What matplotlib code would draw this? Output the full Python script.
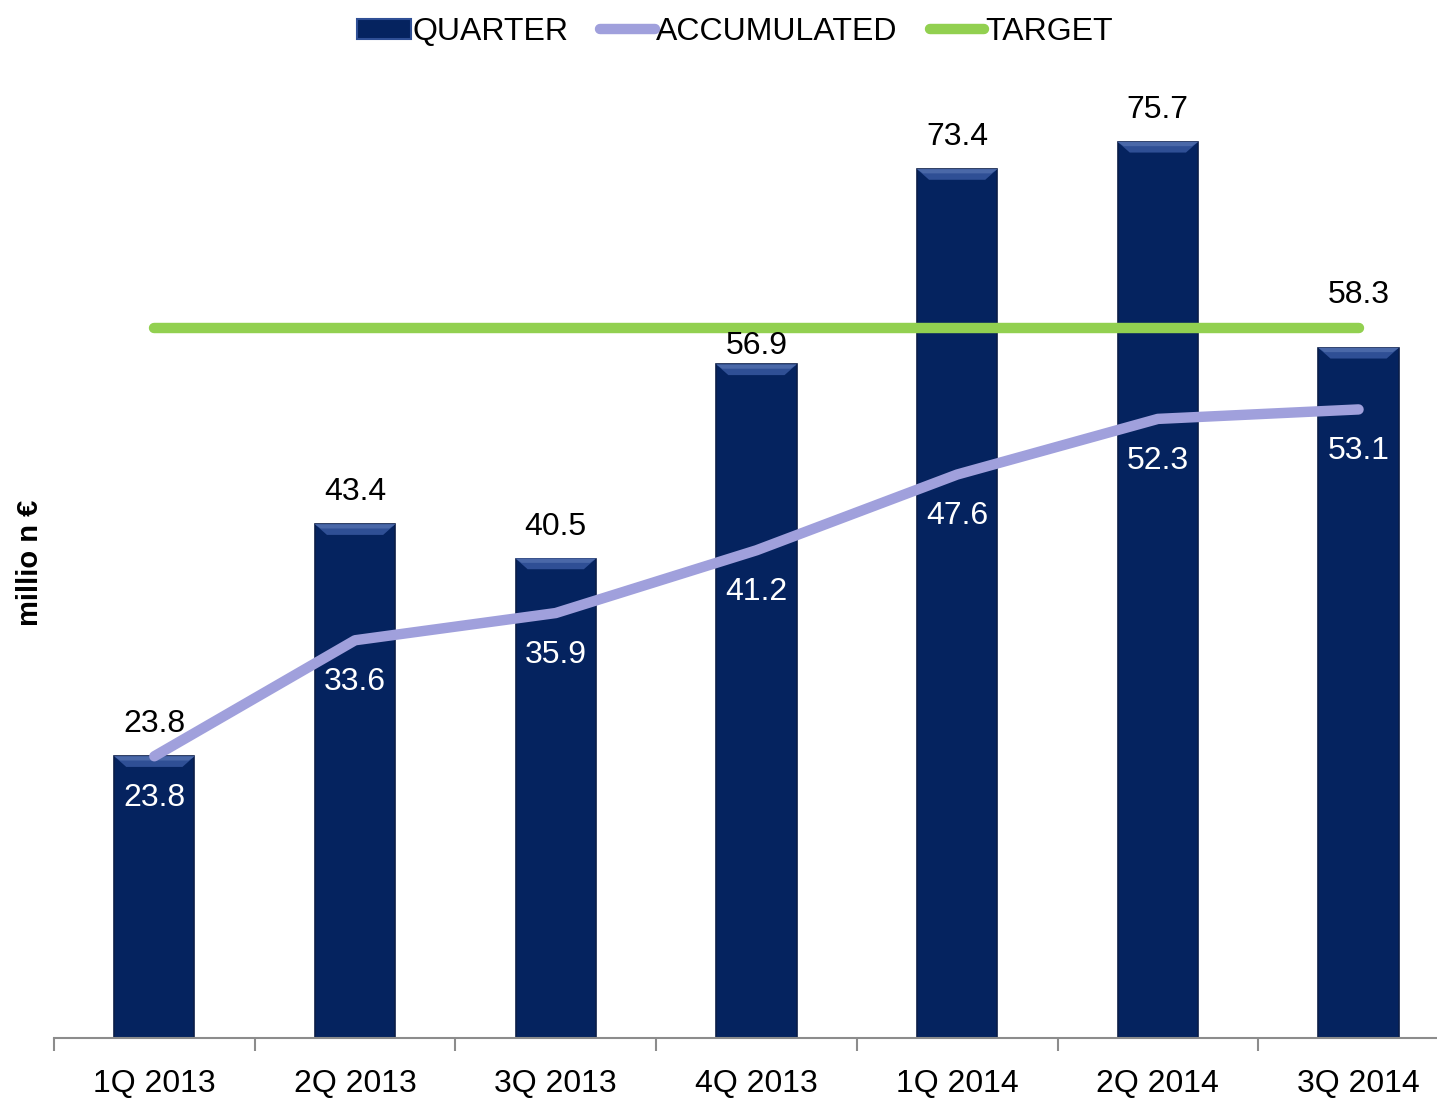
import numpy as np
import matplotlib
matplotlib.use("Agg")
import matplotlib.pyplot as plt
from matplotlib.patches import Polygon, Patch
from matplotlib.lines import Line2D

plt.rcParams["font.family"] = ["Liberation Sans Narrow", "Liberation Sans", "DejaVu Sans"]

quarters = ["1Q 2013", "2Q 2013", "3Q 2013", "4Q 2013", "1Q 2014", "2Q 2014", "3Q 2014"]
quarter_vals = [23.8, 43.4, 40.5, 56.9, 73.4, 75.7, 58.3]
accum_vals = [23.8, 33.6, 35.9, 41.2, 47.6, 52.3, 53.1]
target_val = 60.0

NAVY = "#05235f"
LAV = "#a0a0dc"
GREEN = "#92d050"
FS = 23

fig = plt.figure(figsize=(14.37, 11.01), dpi=100, facecolor="white")
ax = fig.add_axes([54 / 1437, 63 / 1101, (1437 - 54) / 1437, (1038 - 91) / 1101])

x = np.arange(len(quarters))
bw = 0.4
bars = ax.bar(x, quarter_vals, width=bw, color=NAVY, edgecolor="#0b1d48", linewidth=1.2, zorder=2)

# bevel on top of each bar
bev = 0.9
ins = 0.06
for b in bars:
    x0, w, h = b.get_x(), b.get_width(), b.get_height()
    ax.add_patch(Polygon([[x0, h], [x0 + w, h], [x0 + w - ins, h - bev], [x0 + ins, h - bev]],
                         closed=True, facecolor="#2f4f95", edgecolor="none", zorder=3))
    ax.add_patch(Polygon([[x0, h], [x0 + w, h], [x0 + w - ins * 0.5, h - bev * 0.4], [x0 + ins * 0.5, h - bev * 0.4]],
                         closed=True, facecolor="#4a68a8", edgecolor="none", zorder=3))

ax.plot([x[0], x[-1]], [target_val, target_val], color=GREEN, lw=7.5, solid_capstyle="round", zorder=4)
ax.plot(x, accum_vals, color=LAV, lw=7.5, solid_capstyle="round", solid_joinstyle="round", zorder=4)

# quarter labels above bars (two nudged to dodge the target line)
nudge = {3: -10, 6: 15}
for i, v in enumerate(quarter_vals):
    ax.annotate(f"{v:.1f}", (x[i], v), xytext=(0, 23 + nudge.get(i, 0)), textcoords="offset points",
                ha="center", va="center", fontsize=FS, color="black", zorder=5)

for i, v in enumerate(accum_vals):
    ax.annotate(f"{v:.1f}", (x[i], v), xytext=(0, -30), textcoords="offset points",
                ha="center", va="center", fontsize=FS, color="white", zorder=5)

for s in ["top", "right", "left"]:
    ax.spines[s].set_visible(False)
ax.spines["bottom"].set_color("#8c8c8c")
ax.spines["bottom"].set_linewidth(1.5)
ax.set_yticks([])
ax.set_xticks(x)
ax.set_xticklabels(quarters, fontsize=FS)
ax.tick_params(axis="x", which="major", length=0, pad=22)
ax.set_xticks(np.arange(-0.5, len(quarters) + 0.5, 1), minor=True)
ax.tick_params(axis="x", which="minor", length=9, width=1.5, color="#8c8c8c")
ax.set_xlim(-0.5, (1437 - 54) / 200.7 - 0.5)
ax.set_ylim(0, 80)

fig.text(30 / 1437, 1 - 563 / 1101, "millio n €", rotation=90, ha="center", va="center",
         fontsize=21, fontweight="bold")

handles = [Patch(facecolor=NAVY, edgecolor="#2f4f95", linewidth=1.5),
           Line2D([], [], color=LAV, lw=7.5, solid_capstyle="round"),
           Line2D([], [], color=GREEN, lw=7.5, solid_capstyle="round")]
fig.legend(handles, ["QUARTER", "ACCUMULATED", "TARGET"], loc="center", bbox_to_anchor=(735 / 1437, 1 - 32 / 1101),
           ncol=3, frameon=False, fontsize=FS, handlelength=1.7, handleheight=0.6, handletextpad=0.05,
           columnspacing=1.0)

fig.savefig("out.png", dpi=100, facecolor="white")
